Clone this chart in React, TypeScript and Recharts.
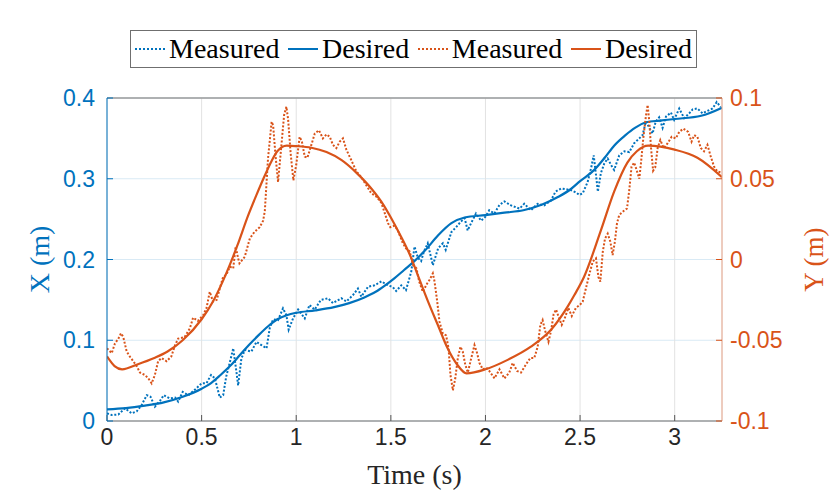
import React from "react";
import { LineChart, Line, XAxis, YAxis, CartesianGrid } from "recharts";

// ---- Palette ---------------------------------------------------------------
const BLUE = "#0072BD";
const ORANGE = "#D95319";
const SANS = '"Liberation Sans", Arial, sans-serif';
const SERIF = '"Liberation Serif", "Times New Roman", serif';

// ---- Axes ------------------------------------------------------------------
const TIME_TICKS = [0, 0.5, 1, 1.5, 2, 2.5, 3];
const X_TICKS = [0, 0.1, 0.2, 0.3, 0.4];
const Y_TICKS = [-0.1, -0.05, 0, 0.05, 0.1];

// ---- Data: [time (s), value (m)] -------------------------------------------
const X_MEASURED: [number, number][] = [
  [0.0, 0.0095], [0.025, 0.0074], [0.06, 0.008], [0.095, 0.0157], [0.13, 0.0095],
  [0.157, 0.012], [0.183, 0.0198], [0.21, 0.032], [0.23, 0.03], [0.253, 0.0177],
  [0.28, 0.025], [0.3, 0.032], [0.33, 0.028], [0.36, 0.029], [0.376, 0.024],
  [0.4, 0.036], [0.43, 0.032], [0.45, 0.036], [0.47, 0.04], [0.5, 0.0467],
  [0.526, 0.047], [0.55, 0.057], [0.57, 0.053], [0.596, 0.029], [0.614, 0.032],
  [0.63, 0.055], [0.65, 0.0735], [0.667, 0.09], [0.684, 0.061], [0.693, 0.044],
  [0.71, 0.077], [0.728, 0.088], [0.763, 0.086], [0.79, 0.098], [0.816, 0.094],
  [0.843, 0.09], [0.86, 0.115], [0.878, 0.126], [0.904, 0.125], [0.93, 0.1395],
  [0.948, 0.131], [0.96, 0.113], [0.983, 0.127], [1.01, 0.138], [1.045, 0.127],
  [1.07, 0.1437], [1.098, 0.138], [1.13, 0.15], [1.168, 0.152], [1.194, 0.146],
  [1.238, 0.152], [1.265, 0.148], [1.3, 0.156], [1.326, 0.164], [1.344, 0.154],
  [1.38, 0.1664], [1.414, 0.168], [1.45, 0.173], [1.485, 0.168], [1.51, 0.166],
  [1.528, 0.161], [1.555, 0.168], [1.58, 0.162], [1.608, 0.185], [1.625, 0.216],
  [1.643, 0.202], [1.66, 0.198], [1.675, 0.21], [1.695, 0.22], [1.71, 0.205],
  [1.722, 0.193], [1.75, 0.214], [1.775, 0.22], [1.79, 0.212], [1.82, 0.234],
  [1.845, 0.24], [1.87, 0.247], [1.89, 0.251], [1.906, 0.236], [1.924, 0.245],
  [1.95, 0.257], [1.977, 0.248], [2.0, 0.253], [2.02, 0.261], [2.047, 0.257],
  [2.074, 0.2675], [2.1, 0.272], [2.135, 0.267], [2.18, 0.263], [2.205, 0.269],
  [2.24, 0.261], [2.276, 0.269], [2.31, 0.267], [2.346, 0.273], [2.37, 0.284],
  [2.4, 0.288], [2.425, 0.287], [2.45, 0.286], [2.478, 0.283], [2.496, 0.28],
  [2.514, 0.282], [2.54, 0.296], [2.558, 0.313], [2.572, 0.329], [2.585, 0.303],
  [2.594, 0.284], [2.61, 0.307], [2.628, 0.319], [2.646, 0.325], [2.664, 0.317],
  [2.68, 0.311], [2.707, 0.329], [2.734, 0.334], [2.76, 0.333], [2.786, 0.344],
  [2.813, 0.35], [2.83, 0.354], [2.848, 0.371], [2.866, 0.363], [2.883, 0.356],
  [2.9, 0.371], [2.918, 0.376], [2.936, 0.363], [2.954, 0.377], [2.98, 0.382],
  [2.997, 0.373], [3.024, 0.387], [3.05, 0.375], [3.077, 0.381], [3.095, 0.386],
  [3.12, 0.387], [3.147, 0.381], [3.173, 0.384], [3.2, 0.387], [3.222, 0.395],
  [3.243, 0.389],
];

const X_DESIRED: [number, number][] = [
  [0, 0.0145], [0.1, 0.016], [0.2, 0.019], [0.3, 0.023], [0.4, 0.03], [0.5, 0.04],
  [0.55, 0.047], [0.6, 0.057], [0.65, 0.068], [0.7, 0.081], [0.75, 0.094],
  [0.8, 0.106], [0.85, 0.117], [0.9, 0.126], [0.95, 0.131], [1.0, 0.134],
  [1.1, 0.137], [1.2, 0.141], [1.28, 0.146], [1.36, 0.153], [1.42, 0.16],
  [1.47, 0.168], [1.52, 0.177], [1.57, 0.187], [1.62, 0.197], [1.68, 0.211],
  [1.75, 0.23], [1.82, 0.245], [1.89, 0.252], [2.0, 0.255], [2.1, 0.258],
  [2.2, 0.261], [2.3, 0.268], [2.38, 0.277], [2.45, 0.287], [2.5, 0.297],
  [2.575, 0.311], [2.63, 0.326], [2.68, 0.341], [2.74, 0.354], [2.79, 0.363],
  [2.85, 0.37], [2.92, 0.372], [3.0, 0.374], [3.14, 0.378], [3.25, 0.388],
];

const Y_MEASURED: [number, number][] = [
  [0.0, -0.055], [0.025, -0.058], [0.042, -0.052], [0.06, -0.049], [0.074, -0.0457],
  [0.086, -0.048], [0.104, -0.057], [0.12, -0.06], [0.139, -0.063], [0.157, -0.066],
  [0.174, -0.07], [0.2, -0.0715], [0.218, -0.0735], [0.236, -0.0767], [0.253, -0.0715],
  [0.27, -0.063], [0.288, -0.061], [0.315, -0.063], [0.34, -0.06], [0.36, -0.053],
  [0.376, -0.049], [0.41, -0.048], [0.438, -0.0426], [0.455, -0.036], [0.48, -0.038],
  [0.508, -0.0345], [0.526, -0.03], [0.543, -0.02], [0.56, -0.026], [0.58, -0.025],
  [0.596, -0.018], [0.614, -0.0106], [0.63, -0.0096], [0.65, -0.0044], [0.667, -0.0055],
  [0.68, 0.008], [0.693, 0.0007], [0.7, -0.0024], [0.728, 0.0017], [0.755, 0.0131],
  [0.78, 0.0172], [0.807, 0.02], [0.825, 0.024], [0.834, 0.03], [0.851, 0.0627],
  [0.87, 0.0853], [0.878, 0.083], [0.89, 0.065], [0.904, 0.048], [0.918, 0.066],
  [0.936, 0.0895], [0.948, 0.0946], [0.957, 0.087], [0.971, 0.065], [0.985, 0.049],
  [1.0, 0.0585], [1.018, 0.076], [1.03, 0.073], [1.045, 0.0637], [1.059, 0.063],
  [1.08, 0.071], [1.098, 0.078], [1.12, 0.08], [1.141, 0.075], [1.16, 0.0775],
  [1.177, 0.076], [1.194, 0.071], [1.212, 0.069], [1.23, 0.073], [1.247, 0.075],
  [1.265, 0.068], [1.291, 0.0615], [1.318, 0.0545], [1.344, 0.051], [1.37, 0.046],
  [1.397, 0.041], [1.423, 0.039], [1.45, 0.035], [1.467, 0.029], [1.485, 0.0225],
  [1.497, 0.02], [1.52, 0.021], [1.537, 0.018], [1.56, 0.011], [1.58, 0.0069],
  [1.6, 0.0049], [1.617, -0.0034], [1.635, -0.0054], [1.65, -0.0137], [1.669, -0.02],
  [1.692, -0.0148], [1.704, -0.0127], [1.722, -0.0086], [1.731, -0.0137], [1.745, -0.026],
  [1.757, -0.0385], [1.775, -0.046], [1.792, -0.047], [1.805, -0.055], [1.815, -0.0715],
  [1.828, -0.081], [1.84, -0.074], [1.854, -0.061], [1.868, -0.054], [1.88, -0.057],
  [1.893, -0.065], [1.907, -0.07], [1.925, -0.061], [1.942, -0.053], [1.956, -0.058],
  [1.968, -0.064], [1.986, -0.068], [2.004, -0.067], [2.02, -0.069], [2.048, -0.0736],
  [2.074, -0.068], [2.1, -0.0736], [2.126, -0.07], [2.144, -0.064], [2.167, -0.069],
  [2.188, -0.07], [2.214, -0.065], [2.237, -0.061], [2.258, -0.061], [2.276, -0.054],
  [2.29, -0.0405], [2.302, -0.0375], [2.315, -0.044], [2.333, -0.051], [2.347, -0.044],
  [2.36, -0.034], [2.373, -0.031], [2.385, -0.035], [2.403, -0.0405], [2.42, -0.036],
  [2.438, -0.03], [2.456, -0.035], [2.478, -0.03], [2.5, -0.028], [2.514, -0.026],
  [2.531, -0.0178], [2.55, -0.0086], [2.567, -0.0013], [2.584, 0.0007], [2.597, -0.011],
  [2.607, -0.0137], [2.62, 0.0049], [2.632, 0.0131], [2.646, 0.016], [2.66, 0.011],
  [2.672, 0.0028], [2.684, 0.011], [2.695, 0.0224], [2.707, 0.0276], [2.73, 0.03],
  [2.748, 0.0316], [2.76, 0.043], [2.772, 0.0575], [2.786, 0.06], [2.8, 0.055],
  [2.813, 0.05], [2.822, 0.06], [2.834, 0.075], [2.848, 0.089], [2.857, 0.0957],
  [2.866, 0.085], [2.875, 0.069], [2.886, 0.055], [2.897, 0.057], [2.91, 0.069],
  [2.924, 0.074], [2.942, 0.069], [2.963, 0.072], [2.984, 0.076], [3.006, 0.075],
  [3.024, 0.079], [3.046, 0.081], [3.071, 0.079], [3.089, 0.073], [3.103, 0.077],
  [3.12, 0.076], [3.138, 0.069], [3.155, 0.067], [3.173, 0.071], [3.19, 0.064],
  [3.208, 0.0575], [3.226, 0.0545], [3.243, 0.054],
];

const Y_DESIRED: [number, number][] = [
  [0, -0.06], [0.04, -0.066], [0.08, -0.068], [0.16, -0.065], [0.25, -0.061],
  [0.32, -0.057], [0.4, -0.05], [0.5, -0.037], [0.56, -0.026], [0.61, -0.014],
  [0.65, -0.003], [0.69, 0.009], [0.745, 0.027], [0.79, 0.04], [0.834, 0.052],
  [0.87, 0.061], [0.9, 0.067], [0.95, 0.0705], [1.0, 0.0702], [1.08, 0.0692],
  [1.16, 0.0665], [1.24, 0.0615], [1.32, 0.0535], [1.4, 0.0435], [1.46, 0.034],
  [1.5, 0.026], [1.55, 0.015], [1.6, 0.003], [1.65, -0.012], [1.7, -0.027],
  [1.75, -0.041], [1.8, -0.055], [1.85, -0.065], [1.9, -0.0705], [2.0, -0.068],
  [2.12, -0.062], [2.24, -0.054], [2.35, -0.043], [2.435, -0.029], [2.47, -0.022],
  [2.52, -0.011], [2.61, 0.018], [2.68, 0.042], [2.75, 0.06], [2.8, 0.067],
  [2.86, 0.0705], [3.0, 0.068], [3.12, 0.063], [3.25, 0.051],
];

const toPoints = (pairs: [number, number][]) => pairs.map(([t, v]) => ({ t, v }));

const SERIES = [
  { key: "xm", name: "Measured", color: BLUE, dotted: true, axis: "left", data: toPoints(X_MEASURED) },
  { key: "xd", name: "Desired", color: BLUE, dotted: false, axis: "left", data: toPoints(X_DESIRED) },
  { key: "ym", name: "Measured", color: ORANGE, dotted: true, axis: "right", data: toPoints(Y_MEASURED) },
  { key: "yd", name: "Desired", color: ORANGE, dotted: false, axis: "right", data: toPoints(Y_DESIRED) },
];

// ---- Legend (MATLAB-style boxed row) ---------------------------------------
const LegendBox = () => (
  <div
    style={{
      position: "absolute",
      left: 130,
      top: 30,
      width: 567,
      height: 38,
      boxSizing: "border-box",
      border: "1px solid #6f6f6f",
      background: "#fff",
      display: "flex",
      alignItems: "center",
      justifyContent: "space-between",
      padding: "0 4px 0 4px",
      fontFamily: SERIF,
      fontSize: 28,
      color: "#000",
      whiteSpace: "nowrap",
    }}
  >
    {SERIES.map((s) => (
      <div key={s.key} style={{ display: "flex", alignItems: "center" }}>
        <svg width={30} height={10} style={{ marginRight: 4 }}>
          <line
            x1={0}
            y1={5}
            x2={30}
            y2={5}
            stroke={s.color}
            strokeWidth={2}
            strokeDasharray={s.dotted ? "2 2" : undefined}
          />
        </svg>
        <span style={{ lineHeight: "34px" }}>{s.name}</span>
      </div>
    ))}
  </div>
);

// ---- Chart -----------------------------------------------------------------
export default function App() {
  return (
    <div
      style={{
        position: "absolute",
        left: 0,
        top: 0,
        width: 830,
        height: 491,
        background: "#fff",
      }}
    >
      <LineChart width={830} height={491} margin={{ top: 96, right: 8, bottom: 8, left: 7 }}>
        <CartesianGrid xAxisId="t" yAxisId="left" vertical={false} stroke="#d9eaf5" />
        <CartesianGrid xAxisId="t" yAxisId="left" horizontal={false} stroke="#e2e2e2" />

        <XAxis
          xAxisId="t"
          type="number"
          dataKey="t"
          domain={[0, 3.25]}
          ticks={TIME_TICKS}
          allowDataOverflow
          height={62}
          axisLine={{ stroke: "#9a9a9a", strokeWidth: 1.5 }}
          tickLine={{ stroke: "#555" }}
          tickSize={-6}
          tickMargin={14}
          tick={{ fill: "#262626", fontSize: 23, fontFamily: SANS }}
          label={{
            value: "Time (s)",
            position: "center",
            dy: 22,
            fill: "#262626",
            fontSize: 28,
            fontFamily: SERIF,
          }}
        />
        <XAxis
          xAxisId="top"
          orientation="top"
          type="number"
          dataKey="t"
          domain={[0, 3.25]}
          ticks={TIME_TICKS}
          allowDataOverflow
          height={2}
          axisLine={{ stroke: "#9a9a9a", strokeWidth: 1.5 }}
          tickLine={{ stroke: "#555" }}
          tickSize={-6}
          tick={false}
        />
        <YAxis
          yAxisId="left"
          type="number"
          domain={[0, 0.4]}
          ticks={X_TICKS}
          allowDataOverflow
          width={100}
          axisLine={{ stroke: BLUE }}
          tickLine={{ stroke: BLUE }}
          tickSize={-6}
          tickMargin={18}
          tick={{ fill: BLUE, fontSize: 23, fontFamily: SANS }}
          label={{
            value: "X (m)",
            angle: -90,
            position: "center",
            dx: -18,
            fill: BLUE,
            fontSize: 28,
            fontFamily: SERIF,
          }}
        />
        <YAxis
          yAxisId="right"
          orientation="right"
          type="number"
          domain={[-0.1, 0.1]}
          ticks={Y_TICKS}
          allowDataOverflow
          width={100}
          axisLine={{ stroke: "#eaa68b" }}
          tickLine={{ stroke: ORANGE }}
          tickSize={-6}
          tickMargin={14}
          tick={{ fill: ORANGE, fontSize: 23, fontFamily: SANS }}
          label={{
            value: "Y (m)",
            angle: -90,
            position: "center",
            dx: 41,
            fill: ORANGE,
            fontSize: 27,
            fontFamily: SERIF,
          }}
        />

        {SERIES.map((s) => (
          <Line
            key={s.key}
            data={s.data}
            dataKey="v"
            xAxisId="t"
            yAxisId={s.axis}
            type={s.dotted ? "linear" : "monotone"}
            stroke={s.color}
            strokeWidth={s.dotted ? 2 : 2.2}
            strokeDasharray={s.dotted ? "2 1.8" : undefined}
            dot={false}
            activeDot={false}
            isAnimationActive={false}
          />
        ))}
      </LineChart>
      <LegendBox />
    </div>
  );
}
